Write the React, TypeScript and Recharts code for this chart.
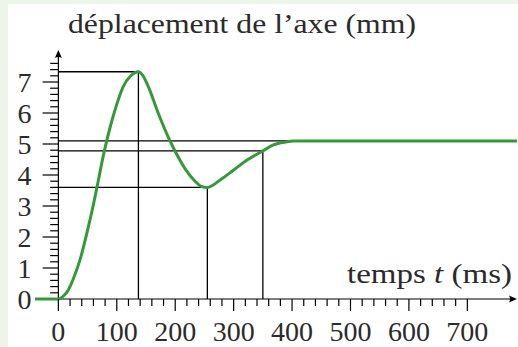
import React from 'react';
import { LineChart, Line, XAxis, YAxis, ReferenceLine } from 'recharts';

// courbe : temps (ms) / déplacement (mm)
const timeMs = [-40, 0, 10, 17, 25, 37, 51, 60, 66, 79, 88, 97, 111, 124, 137, 145, 154, 171, 191, 199, 217, 234, 245, 255, 277, 300, 323, 350, 368, 391, 402, 785];
const displacementMm = [0, 0, 0.12, 0.29, 0.62, 1.26, 2.3, 3.05, 3.6, 4.8, 5.5, 6.1, 6.85, 7.2, 7.33, 7.2, 6.85, 5.99, 5.1, 4.8, 4.2, 3.8, 3.63, 3.6, 3.84, 4.16, 4.48, 4.78, 4.97, 5.07, 5.1, 5.1];

// repères (dépassement, creux, entrée dans la bande)
const markTimes = [137, 255, 350];
const markValues = [7.33, 3.6, 4.78];
const finalTime = 402;
const finalValue = 5.1;

const xMajorTicks = [0, 100, 200, 300, 400, 500, 600, 700];
const xTickStep = 20;
const yMajorTicks = [0, 1, 2, 3, 4, 5, 6, 7];
const yTickStep = 0.2;
const yTickCount = 39;

const yTitle = 'déplacement de l’axe (mm)';
const xTitleWord = 'temps';
const xTitleVar = 't';
const xTitleUnit = '(ms)';

const X_DOMAIN: [number, number] = [-40, 785];
const Y_DOMAIN: [number, number] = [0, 8];
const GREEN = '#329b37';
const INK = '#2b2b2b';
const FONT = '"Liberation Serif", "Times New Roman", serif';

const data = timeMs.map((t, i) => ({ t, v: displacementMm[i] }));
const xTicks = Array.from({ length: xMajorTicks[xMajorTicks.length - 1] / xTickStep + 1 }, (_, i) => i * xTickStep);
const yTicks = Array.from({ length: yTickCount }, (_, i) => +(i * yTickStep).toFixed(1));

const XTick = (p: any) => {
  const major = xMajorTicks.includes(p.payload.value);
  return (
    <g>
      <line x1={p.x} y1={p.y} x2={p.x} y2={p.y + (major ? 12 : 7)} stroke="#000" strokeWidth={1.2} />
      {major && (
        <text x={p.x} y={p.y + 42} textAnchor="middle" fontSize={28} fontFamily={FONT} fill={INK}>
          {p.payload.value}
        </text>
      )}
    </g>
  );
};

const yTickShape = (label?: number) => (p: any) => (
  <g>
    <line x1={p.x1} y1={p.y1} x2={p.x2} y2={p.y2} stroke="#000" strokeWidth={1.2} />
    {label !== undefined && (
      <text x={p.x1 - 11} y={p.y1 + 10} textAnchor="end" fontSize={28} fontFamily={FONT} fill={INK}>
        {label}
      </text>
    )}
  </g>
);

const xArrow = (p: any) => (
  <g>
    <line x1={p.x1} y1={p.y1} x2={p.x2 - 4} y2={p.y2} stroke="#000" strokeWidth={1.2} />
    <path d={`M${p.x2},${p.y2} L${p.x2 - 8},${p.y2 - 3.5} Q${p.x2 - 6},${p.y2} ${p.x2 - 8},${p.y2 + 3.5} Z`} fill="#000" />
  </g>
);

const yArrow = (p: any) => (
  <g>
    <line x1={p.x1} y1={p.y1} x2={p.x2} y2={p.y2 + 4} stroke="#000" strokeWidth={1.2} />
    <path d={`M${p.x2},${p.y2 - 1} L${p.x2 - 3.5},${p.y2 + 7} Q${p.x2},${p.y2 + 5} ${p.x2 + 3.5},${p.y2 + 7} Z`} fill="#000" />
  </g>
);

export default function App() {
  return (
    <div style={{ position: 'absolute', left: 0, top: 0, width: 518, height: 347, background: '#edf4ea', overflow: 'hidden' }}>
      <div style={{ position: 'absolute', left: 8, top: 4, right: 0, bottom: 0, background: '#fff' }} />
      <div style={{ position: 'absolute', left: 0, top: 0 }}>
        <LineChart width={518} height={347} data={data} margin={{ top: 51, right: 1, bottom: 0, left: 35 }}>
          <XAxis
            dataKey="t"
            type="number"
            domain={X_DOMAIN}
            ticks={xTicks}
            interval={0}
            height={48}
            axisLine={false}
            tickLine={false}
            tickSize={0}
            tickMargin={0}
            tick={XTick}
          />
          <YAxis hide type="number" domain={Y_DOMAIN} />

          {yTicks.map((v) => {
            const major = yMajorTicks.includes(v);
            return (
              <ReferenceLine
                key={'yt' + v}
                ifOverflow="visible"
                segment={[{ x: major ? -27 : -14, y: v }, { x: 0, y: v }]}
                shape={yTickShape(major ? v : undefined)}
              />
            );
          })}

          {markTimes.map((t, i) => (
            <ReferenceLine
              key={'h' + t}
              ifOverflow="visible"
              segment={[{ x: 0, y: markValues[i] }, { x: t, y: markValues[i] }]}
              stroke="#000"
              strokeWidth={1.3}
            />
          ))}
          {markTimes.map((t, i) => (
            <ReferenceLine
              key={'v' + t}
              ifOverflow="visible"
              segment={[{ x: t, y: 0 }, { x: t, y: markValues[i] }]}
              stroke="#000"
              strokeWidth={1.3}
            />
          ))}
          <ReferenceLine
            ifOverflow="visible"
            segment={[{ x: 0, y: finalValue }, { x: finalTime, y: finalValue }]}
            stroke="#000"
            strokeWidth={1.3}
          />

          <ReferenceLine ifOverflow="visible" segment={[{ x: 0, y: 0 }, { x: X_DOMAIN[1], y: 0 }]} shape={xArrow} />
          <ReferenceLine ifOverflow="visible" segment={[{ x: 0, y: 0 }, { x: 0, y: Y_DOMAIN[1] }]} shape={yArrow} />

          <Line
            type="monotone"
            dataKey="v"
            stroke={GREEN}
            strokeWidth={3}
            dot={false}
            activeDot={false}
            isAnimationActive={false}
          />
        </LineChart>
      </div>
      <svg width={518} height={347} style={{ position: 'absolute', left: 0, top: 0, pointerEvents: 'none' }}>
        <text x={68} y={33} fontSize={28} fontFamily={FONT} fill={INK} textLength={348} lengthAdjust="spacingAndGlyphs">
          {yTitle}
        </text>
        <text x={347} y={283} fontSize={28} fontFamily={FONT} fill={INK} textLength={165} lengthAdjust="spacingAndGlyphs">
          {xTitleWord + ' '}
          <tspan fontStyle="italic">{xTitleVar}</tspan>
          {' ' + xTitleUnit}
        </text>
      </svg>
    </div>
  );
}
